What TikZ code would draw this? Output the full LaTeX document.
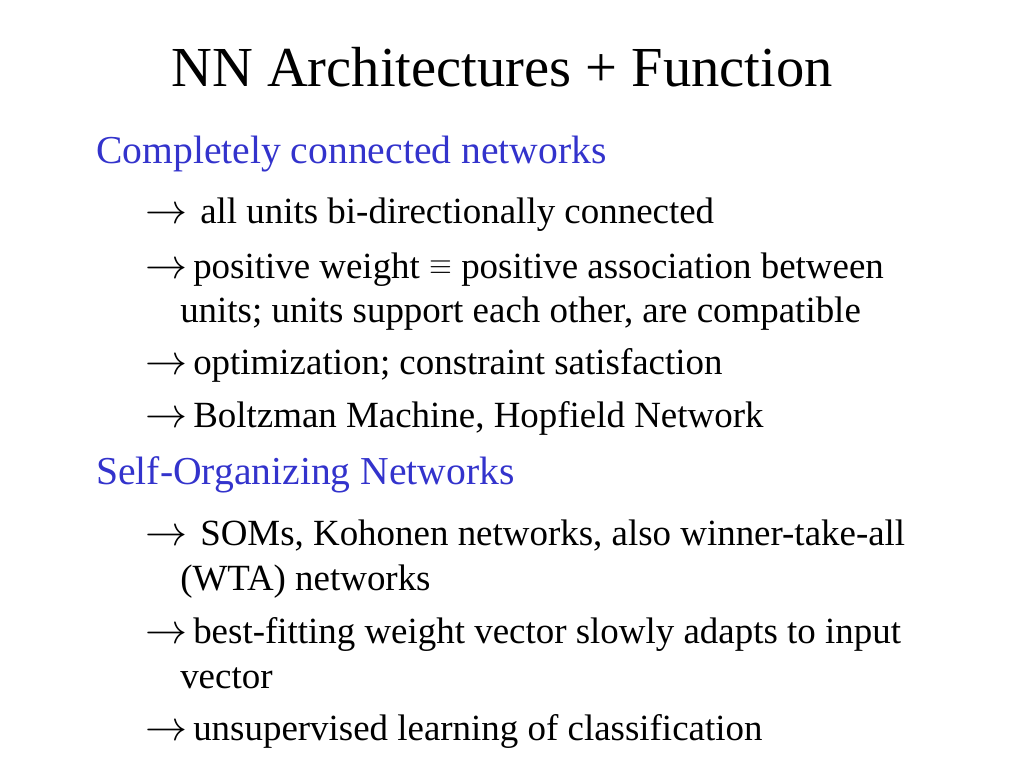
\documentclass[tikz,border=0pt]{standalone}
\usepackage{fix-cm}
\usepackage{fontspec}
\setmainfont{Liberation Serif}
\definecolor{headblue}{RGB}{51,51,204}
\tikzset{
  title/.style={anchor=base, inner sep=0pt, font=\fontsize{42.4}{50}\selectfont},
  head/.style={anchor=base west, inner sep=0pt, text=headblue, font=\fontsize{29.7}{36}\selectfont},
  item/.style={anchor=base west, inner sep=0pt, font=\fontsize{27.7}{33}\selectfont},
}
% arrow box: #1 = box width in pt (text starts after it)
\newcommand{\arr}[1]{\makebox[#1pt][l]{\fontsize{31.5}{33}\selectfont$\rightarrow$}}
\newcommand{\eqv}{\raisebox{2.5pt}{\fontsize{22}{22}\selectfont$\equiv$}}
\begin{document}
\begin{tikzpicture}[x=0.75pt,y=-0.75pt]
\useasboundingbox (0,0) rectangle (1024,768);
\node[title] (t) at (502,86) {NN Architectures + Function};
\node[head] (h1) at (96,163) {Completely connected networks};
\node[item] (a1) at (145,223) {\arr{41.25}all units bi-directionally connected};
\node[item] (a2) at (145,278) {\arr{36}positive weight \eqv{} positive association between};
\node[item] (a2b) at (180,322) {units; units support each other, are compatible};
\node[item] (a3) at (145,374) {\arr{36}optimization; constraint satisfaction};
\node[item] (a4) at (145,427) {\arr{36}Boltzman Machine, Hopfield Network};
\node[head] (h2) at (96,484) {Self-Organizing Networks};
\node[item] (b1) at (145,545) {\arr{41.25}SOMs, Kohonen networks, also winner-take-all};
\node[item] (b1b) at (180,590) {(WTA) networks};
\node[item] (b2) at (145,643) {\arr{36}best-fitting weight vector slowly adapts to input};
\node[item] (b2b) at (180,688) {vector};
\node[item] (b3) at (145,740) {\arr{36}unsupervised learning of classification};
\end{tikzpicture}
\end{document}
